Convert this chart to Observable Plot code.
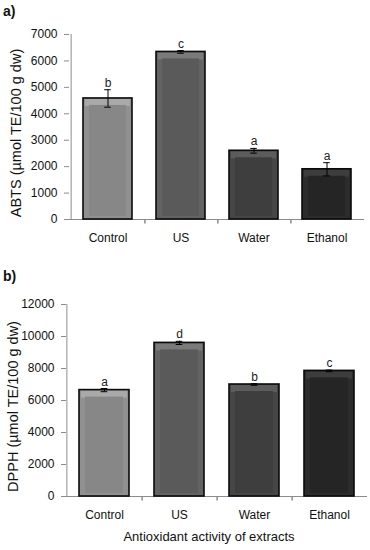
<!DOCTYPE html>
<html>
<head>
<meta charset="utf-8">
<script src="https://cdn.jsdelivr.net/npm/d3@7"></script>
<script src="https://cdn.jsdelivr.net/npm/@observablehq/plot@0.6"></script>
<style>
  html, body { margin: 0; padding: 0; background: #fff; }
  #wrap { position: relative; width: 370px; height: 550px; overflow: hidden; font-family: "Liberation Sans", Arial, sans-serif; }
  .panel { position: absolute; left: 0; }
  .tag { position: absolute; left: 3px; font-weight: bold; font-size: 14px; color: #111; }
</style>
</head>
<body>
<div id="wrap">
  <div class="tag" style="top:3px">a)</div>
  <div class="panel" id="pa" style="top:0"></div>
  <div class="panel" id="pb" style="top:260px"></div>
  <div class="tag" style="top:268px">b)</div>
</div>
<script>
const categories = ["Control", "US", "Water", "Ethanol"];
const abtsValues = [4580, 6340, 2600, 1900];
const abtsErrors = [330, 50, 90, 250];
const abtsLetters = ["b", "c", "a", "a"];
const abtsTicks = [0, 1000, 2000, 3000, 4000, 5000, 6000, 7000];
const dpphValues = [6650, 9600, 7000, 7850];
const dpphErrors = [100, 100, 50, 50];
const dpphLetters = ["a", "d", "b", "c"];
const dpphTicks = [0, 2000, 4000, 6000, 8000, 10000, 12000];
const abtsTitle = "ABTS (\u00b5mol TE/100 g dw)";
const dpphTitle = "DPPH (\u00b5mol TE/100 g dw)";
const xTitle = "Antioxidant activity of extracts";

const barMain = ["#878787", "#5a5a5a", "#3e3e3e", "#252525"];
const barSide = ["#909090", "#636363", "#464646", "#2c2c2c"];
const barTop = ["#a9a9a9", "#7a7a7a", "#5c5c5c", "#3d3d3d"];
const axisGray = "#8c8c8c";

const tickSymbol = { draw(ctx) { ctx.moveTo(0, 0); ctx.lineTo(0, 4); } };

function panel({values, errors, letters, ticks, title, width, height, ml, mr, mt, mb, titleDx, titleDy, xlabel}) {
  const data = categories.map((c, i) => ({c, v: values[i], e: errors[i], l: letters[i], i}));
  const step = (width - ml - mr) / categories.length;
  const padIn = 0.33;
  const bw = step * (1 - padIn);
  const capInset = (bw - 7) / 2;
  const ymax = ticks[ticks.length - 1];
  const marks = [
    Plot.ruleY([0], {stroke: axisGray}),
    Plot.ruleX([categories[0]], {x: d => d, dx: -step / 2, y1: 0, y2: ymax, stroke: axisGray}),
    Plot.dot(categories.slice(0, -1), {x: d => d, y: 0, dx: step / 2, symbol: tickSymbol, stroke: axisGray, fill: "none"}),
    Plot.axisY({ticks, tickSize: 5, tickPadding: 7, stroke: axisGray, fill: "#111", fontSize: 12, tickFormat: d3.format("d"), label: null}),
    Plot.axisX({tickSize: 0, tickPadding: 14, fill: "#111", fontSize: 12, label: null}),
    Plot.barY(data, {x: "c", y: "v", fill: d => barSide[d.i]}),
    Plot.tickY(data, {x: "c", y: "v", dy: 4, stroke: d => barTop[d.i], strokeWidth: 7, insetLeft: 2, insetRight: 2}),
    Plot.barY(data, {x: "c", y: "v", fill: d => barMain[d.i], insetLeft: 6, insetRight: 6, insetTop: 7, insetBottom: 3}),
    Plot.barY(data, {x: "c", y: "v", fill: "none", stroke: "#0a0a0a", strokeWidth: 1.6}),
    Plot.ruleX(data, {x: "c", y1: d => d.v - d.e, y2: d => d.v + d.e, stroke: "#000", strokeWidth: 1}),
    Plot.tickY(data, {x: "c", y: d => d.v + d.e, stroke: "#000", insetLeft: capInset, insetRight: capInset}),
    Plot.tickY(data, {x: "c", y: d => d.v - d.e, stroke: "#000", insetLeft: capInset, insetRight: capInset}),
    Plot.text(data, {x: "c", y: d => d.v + d.e, text: "l", lineAnchor: "bottom", dy: -3, fontSize: 12, fill: "#222"}),
    Plot.text([title], {frameAnchor: "left", rotate: -90, dx: titleDx, dy: titleDy, fontSize: 14.5, fill: "#111", textAnchor: "middle"})
  ];
  if (xlabel) {
    marks.push(Plot.text([xlabel], {frameAnchor: "bottom", dy: 44, dx: -8, fontSize: 13, fill: "#111"}));
  }
  return Plot.plot({
    width, height,
    marginLeft: ml, marginRight: mr, marginTop: mt, marginBottom: mb,
    style: {fontFamily: "Liberation Sans, Arial, sans-serif", color: "#111", background: "transparent", overflow: "visible"},
    x: {type: "band", domain: categories, paddingInner: padIn, paddingOuter: padIn / 2, axis: null},
    y: {domain: [0, ymax], axis: null},
    color: {type: "identity"},
    marks
  });
}

document.getElementById("pa").appendChild(panel({
  values: abtsValues, errors: abtsErrors, letters: abtsLetters, ticks: abtsTicks, title: abtsTitle,
  width: 370, height: 260, ml: 69, mr: 6, mt: 34, mb: 41, titleDx: -53, titleDy: 6
}));
document.getElementById("pb").appendChild(panel({
  values: dpphValues, errors: dpphErrors, letters: dpphLetters, ticks: dpphTicks, title: dpphTitle,
  width: 370, height: 290, ml: 66, mr: 3, mt: 44, mb: 54, titleDx: -53, titleDy: 6, xlabel: xTitle
}));
</script>
</body>
</html>
